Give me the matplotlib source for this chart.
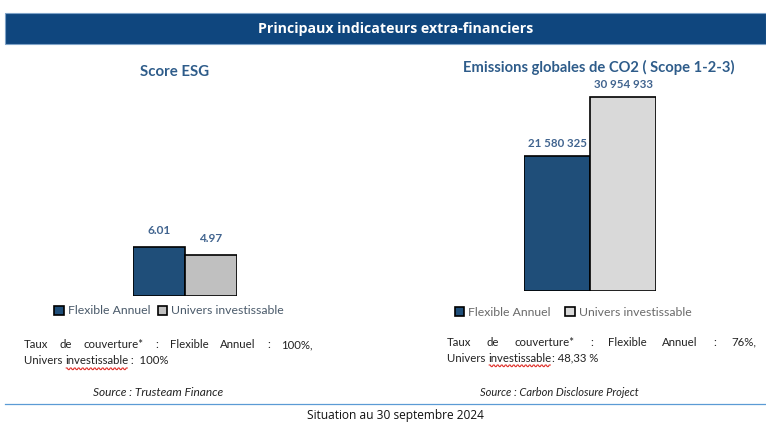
import matplotlib
matplotlib.use("Agg")
import numpy as np
import matplotlib.pyplot as plt
from matplotlib.patches import Rectangle
from matplotlib.lines import Line2D

# ---- data ----
series = ["Flexible Annuel", "Univers investissable"]
esg_values = [6.01, 4.97]
esg_labels = ["6.01", "4.97"]
co2_values = [21580325, 30954933]
co2_labels = ["21 580 325", "30 954 933"]

W, H = 766, 426
fig = plt.figure(figsize=(W / 100, H / 100), dpi=100)
fig.patch.set_facecolor("white")

def fx(x):
    return x / W

def fy(y):
    return 1 - y / H

FONT = ["Lato", "DejaVu Sans"]
DARK = "#1F4E79"
LABEL = "#41648F"

# header band
fig.patches.append(Rectangle((fx(5), fy(44)), fx(766) - fx(5), fy(13) - fy(44),
                             transform=fig.transFigure, facecolor="#0F467E",
                             edgecolor="#7FA3C8", linewidth=0.8))
fig.text(fx(396), fy(28.5), "Principaux indicateurs extra-financiers", color="white",
         fontsize=10.2, fontweight="bold", ha="center", va="center",
         family=["Open Sans", "DejaVu Sans"])

def make_axes(x0, x1, ytop, ybase):
    return fig.add_axes([fx(x0), fy(ybase), fx(x1) - fx(x0), fy(ytop) - fy(ybase)])

colors_left = [DARK, "#C0C0C0"]
colors_right = [DARK, "#D9D9D9"]

# left chart: Score ESG
axL = make_axes(133, 237, 85, 296)
barsL = axL.bar([0, 1], esg_values, width=1.0, color=colors_left, edgecolor="black",
                linewidth=1.2)
axL.set_xlim(-0.5, 1.5)
axL.set_ylim(0, 211 / 8.15)
axL.axis("off")
for i, (v, t) in enumerate(zip(esg_values, esg_labels)):
    axL.annotate(t, (i, v), xytext=(0, 8), textcoords="offset points", ha="center",
                 va="bottom", color=LABEL, fontsize=8.5, fontweight="bold", family=FONT)
fig.text(fx(175), fy(72), "Score ESG", color="#2E5C8A", fontsize=10.8, fontweight="bold",
         ha="center", va="center", family=FONT)
legL = axL.legend(barsL, series, ncol=2, frameon=False, loc="center",
                  bbox_to_anchor=(fx(169), fy(311)), bbox_transform=fig.transFigure,
                  handlelength=0.8, handleheight=0.8, handletextpad=0.3,
                  columnspacing=0.6, prop={"family": FONT, "size": 8.8})
for t in legL.get_texts():
    t.set_color("#4A5A6A")

# right chart: CO2
axR = make_axes(524, 656, 80, 291)
barsR = axR.bar([0, 1], co2_values, width=1.0, color=colors_right, edgecolor="black",
                linewidth=1.2)
axR.set_xlim(-0.5, 1.5)
axR.set_ylim(0, 211 / 6.27 * 1e6)
axR.axis("off")
for i, (v, t) in enumerate(zip(co2_values, co2_labels)):
    axR.annotate(t, (i, v), xytext=(0, 5), textcoords="offset points", ha="center",
                 va="bottom", color=LABEL, fontsize=8.3, fontweight="bold", family=FONT)
fig.text(fx(599), fy(67), "Emissions globales de CO2 ( Scope 1-2-3)", color="#2E5C8A",
         fontsize=10.6, fontweight="bold", ha="center", va="center", family=FONT)
legR = axR.legend(barsR, series, ncol=2, frameon=False, loc="center",
                  bbox_to_anchor=(fx(573), fy(312)), bbox_transform=fig.transFigure,
                  handlelength=0.8, handleheight=0.8, handletextpad=0.3,
                  columnspacing=1.2, prop={"family": FONT, "size": 8.8})
for t in legR.get_texts():
    t.set_color("#6A6A6A")

# justified text helper
fig.canvas.draw()
renderer = fig.canvas.get_renderer()

def justified(words, x0, x1, y, **kw):
    texts = [fig.text(0, fy(y), w, ha="left", va="center", **kw) for w in words]
    widths = [t.get_window_extent(renderer).width for t in texts]
    gap = (x1 - x0 - sum(widths)) / (len(words) - 1)
    x = x0
    for t, wd in zip(texts, widths):
        t.set_x(fx(x))
        x += wd + gap

def wavy_line(parts, x0, y, wavy_index, **kw):
    # place consecutive text pieces and draw a red wavy underline under one of them
    x = x0
    for i, p in enumerate(parts):
        t = fig.text(fx(x), fy(y), p, ha="left", va="center", **kw)
        wd = t.get_window_extent(renderer).width
        if i == wavy_index:
            xs = np.arange(x + 1, x + wd - 1, 1.0)
            ys = y + 7 + np.where((np.arange(len(xs)) // 2) % 2 == 0, 0.0, 1.6)
            fig.add_artist(Line2D(fx(xs), fy(ys), transform=fig.transFigure,
                                  color="#E0302A", linewidth=0.8))
        x += wd

body = dict(fontsize=8.2, color="#222222", family=FONT)
justified(["Taux", "de", "couverture*", ":", "Flexible", "Annuel", ":", "100%,"], 24, 313, 345, **body)
wavy_line(["Univers ", "investissable", " :  100%"], 24, 361, 1, **body)
justified(["Taux", "de", "couverture*", ":", "Flexible", "Annuel", ":", "76%,"], 447, 756, 342, **body)
wavy_line(["Univers ", "investissable", ": 48,33 %"], 447, 358, 1, **body)

fig.text(fx(158), fy(393), "Source : Trusteam Finance", ha="center", va="center",
         fontsize=8.6, style="italic", color="#222222", family=FONT)
fig.text(fx(559), fy(393), "Source : Carbon Disclosure Project", ha="center", va="center",
         fontsize=8.0, style="italic", color="#222222", family=FONT)

fig.add_artist(Line2D([fx(5), fx(766)], [fy(404), fy(404)], transform=fig.transFigure,
                      color="#5B9BD5", linewidth=0.9))
fig.text(fx(395), fy(416), "Situation au 30 septembre 2024", ha="center", va="center",
         fontsize=8.6, color="#111111", family=["Open Sans", "DejaVu Sans"])

fig.savefig("out.png", dpi=100)
